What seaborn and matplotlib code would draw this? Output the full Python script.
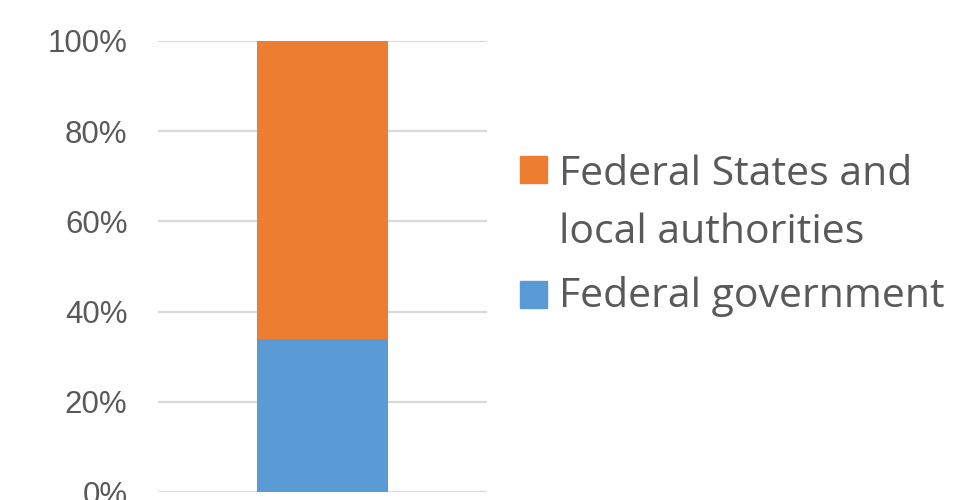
import matplotlib
matplotlib.use("Agg")
import matplotlib.pyplot as plt
import seaborn as sns
import pandas as pd
from matplotlib.patches import Rectangle

# Data
categories = [""]
federal_government = [34]
states_and_local = [66]
series_labels = ["Federal States and\nlocal authorities", "Federal government"]
series_colors = ["#ED7D31", "#5B9BD5"]
y_ticks = [0, 20, 40, 60, 80, 100]
y_tick_labels = ["0%", "20%", "40%", "60%", "80%", "100%"]

sns.set_theme(style="white")
plt.rcParams["font.family"] = ["Liberation Sans", "DejaVu Sans"]

df = pd.DataFrame({
    "category": categories,
    "federal": federal_government,
    "total": [f + s for f, s in zip(federal_government, states_and_local)],
})

fig = plt.figure(figsize=(9.56, 5.00), dpi=100)
ax = fig.add_axes([158 / 956, 1 - 492 / 500, 329 / 956, 451 / 500])

sns.barplot(data=df, x="category", y="total", color=series_colors[0],
            width=0.4, saturation=1, ax=ax, zorder=3, linewidth=0)
sns.barplot(data=df, x="category", y="federal", color=series_colors[1],
            width=0.4, saturation=1, ax=ax, zorder=4, linewidth=0)

ax.set_xlim(-0.5, 0.5)
ax.set_ylim(0, 100)
ax.set_yticks(y_ticks)
ax.set_yticklabels(y_tick_labels)
ax.set_xticks([])
ax.set_xlabel("")
ax.set_ylabel("")
ax.yaxis.grid(True, color="#D9D9D9", linewidth=1.6, zorder=0)
ax.set_axisbelow(True)
for s in ax.spines.values():
    s.set_visible(False)
ax.tick_params(axis="y", length=0, pad=22, labelsize=22.5, labelcolor="#595959")

# Legend (manual, to align squares with first text line)
leg_font = ["Open Sans", "DejaVu Sans"]
fs = 29.5
fig.patches.append(Rectangle((520 / 956, 1 - 183 / 500), 27 / 956, 27 / 500,
                             transform=fig.transFigure, color=series_colors[0]))
fig.patches.append(Rectangle((520 / 956, 1 - 308 / 500), 27 / 956, 27 / 500,
                             transform=fig.transFigure, color=series_colors[1]))
fig.text(559 / 956, 1 - 185 / 500, "Federal States and", family=leg_font,
         fontsize=fs, color="#595959", va="baseline", ha="left")
fig.text(559 / 956, 1 - 243 / 500, "local authorities", family=leg_font,
         fontsize=fs, color="#595959", va="baseline", ha="left")
fig.text(559 / 956, 1 - 307 / 500, series_labels[1], family=leg_font,
         fontsize=fs, color="#595959", va="baseline", ha="left")

fig.savefig("out.png", dpi=100)
